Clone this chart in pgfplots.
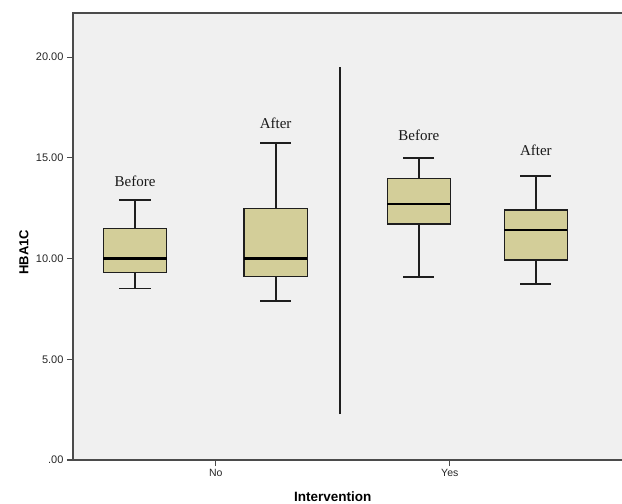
\documentclass[border=0pt]{standalone}
\usepackage{fontspec}
\setmainfont{Liberation Sans}
\newfontfamily\seriffont{Liberation Serif}
\usepackage{pgfplots}
\pgfplotsset{compat=1.18}
\usepgfplotslibrary{statistics}
\definecolor{boxfill}{RGB}{211,206,153}
\definecolor{bg}{RGB}{240,240,240}
\definecolor{framec}{RGB}{75,75,75}
\definecolor{boxline}{RGB}{30,30,30}
\begin{document}
\begin{tikzpicture}[x=1pt,y=1pt]
\path[use as bounding box] (0,0) rectangle (622,504);
\begin{axis}[
  at={(73pt,44pt)}, anchor=south west, scale only axis,
  width=549pt, height=447pt,
  xmin=-0.61, xmax=1.736, ymin=0, ymax=22.19,
  axis background/.style={fill=bg},
  axis line style={draw=none},
  xtick={0,1}, xticklabels={No,Yes},
  ytick={0,5,10,15,20}, yticklabels={.00,5.00,10.00,15.00,20.00},
  tick align=outside, xtick pos=left, ytick pos=left,
  major tick length=6pt,
  tick style={framec, line width=1.2pt},
  x tick label style={font=\fontsize{10.5}{12}\selectfont, text=black!85},
  y tick label style={font=\fontsize{11}{13}\selectfont, text=black!85},
  xlabel={Intervention}, ylabel={HBA1C},
  xlabel style={font=\bfseries\fontsize{13.5}{16}\selectfont, at={(axis description cs:0.473,-0.0828)}, anchor=center},
  ylabel style={font=\bfseries\fontsize{13}{16}\selectfont, at={(axis description cs:-0.0893,0.465)}, anchor=center},
  boxplot/draw direction=y,
  boxplot/every whisker/.style={line width=1.7pt, draw=boxline},
  boxplot/every box/.style={line width=1.3pt, draw=boxline, fill=boxfill},
  boxplot/every median/.style={line width=2.2pt, draw=black},
  clip=false,
]
\addplot[draw=boxline, fill=boxfill, line width=1.3pt,
  boxplot prepared={draw position=-0.345, lower whisker=8.52, lower quartile=9.30,
  median=10.0, upper quartile=11.5, upper whisker=12.9,
  box extend=0.27, whisker extend=0.133}]
  coordinates {};
\addplot[draw=boxline, fill=boxfill, line width=1.3pt,
  boxplot prepared={draw position=0.256, lower whisker=7.91, lower quartile=9.10,
  median=10.0, upper quartile=12.5, upper whisker=15.72,
  box extend=0.27, whisker extend=0.133}]
  coordinates {};
\addplot[draw=boxline, fill=boxfill, line width=1.3pt,
  boxplot prepared={draw position=0.868, lower whisker=9.10, lower quartile=11.72,
  median=12.71, upper quartile=13.99, upper whisker=14.98,
  box extend=0.27, whisker extend=0.133}]
  coordinates {};
\addplot[draw=boxline, fill=boxfill, line width=1.3pt,
  boxplot prepared={draw position=1.368, lower whisker=8.74, lower quartile=9.93,
  median=11.42, upper quartile=12.41, upper whisker=14.10,
  box extend=0.27, whisker extend=0.133}]
  coordinates {};
\addplot[draw=boxline, line width=1.8pt] coordinates {(0.53,2.28) (0.53,19.5)};
\draw[framec, line width=1.6pt] (rel axis cs:1,1) -- (rel axis cs:0,1) -- (rel axis cs:0,0) -- (rel axis cs:1,0);
\node[font=\seriffont\fontsize{15}{18}\selectfont, text=black!90] at (axis cs:-0.345,13.85) {Before};
\node[font=\seriffont\fontsize{15}{18}\selectfont, text=black!90] at (axis cs:0.256,16.70) {After};
\node[font=\seriffont\fontsize{15}{18}\selectfont, text=black!90] at (axis cs:0.868,16.10) {Before};
\node[font=\seriffont\fontsize{15}{18}\selectfont, text=black!90] at (axis cs:1.368,15.37) {After};
\end{axis}
\end{tikzpicture}
\end{document}
